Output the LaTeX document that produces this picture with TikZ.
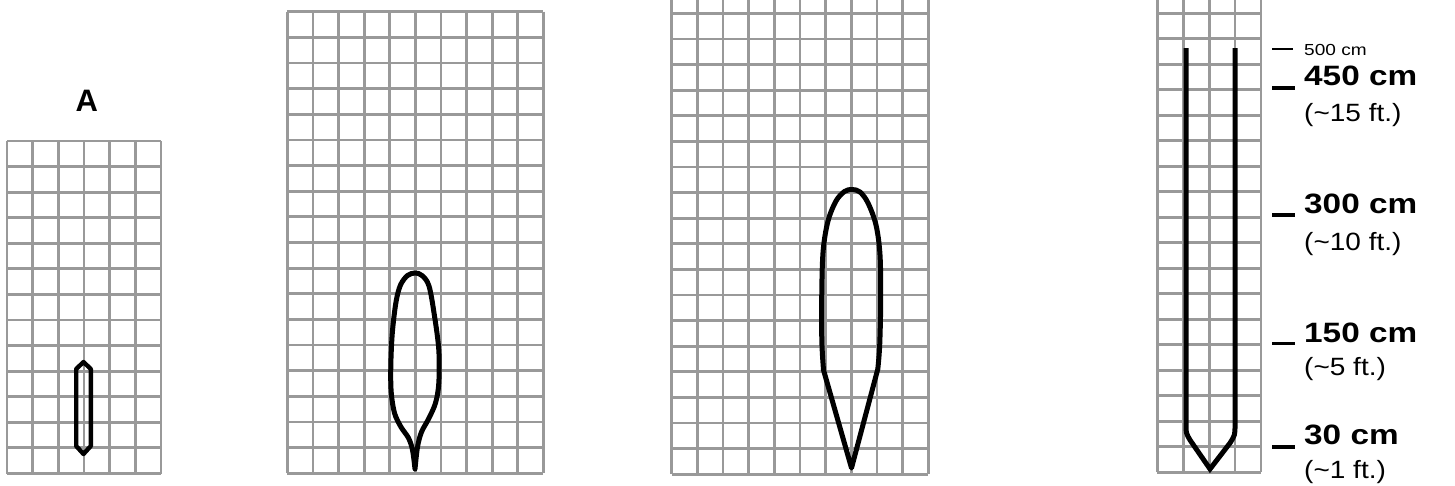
\documentclass[tikz,border=0pt]{standalone}
\usepackage{fontspec}
\setmainfont{Liberation Sans}
\usepackage{graphicx}
\tikzset{
  gridline/.style={draw=black!40, line width=2.8pt},
  shapeline/.style={draw=black, line width=5pt, line join=round},
  bigtick/.style={draw=black, line width=3.8pt},
  smalltick/.style={draw=black, line width=1.4pt},
  cmlabel/.style={anchor=base west, inner sep=0pt, font=\fontsize{28}{28}\selectfont\bfseries},
  ftlabel/.style={anchor=base west, inner sep=0pt, font=\fontsize{25}{25}\selectfont},
  smalllabel/.style={anchor=base west, inner sep=0pt, font=\fontsize{16}{16}\selectfont}
}
\newcommand{\hs}[1]{\scalebox{1.19}[1]{#1}}
\newcommand{\hft}[1]{\scalebox{1.12}[1]{#1}}
\begin{document}
\begin{tikzpicture}[x=1pt,y=-1pt]
\useasboundingbox[fill=white] (0,0) rectangle (1455,485);
% grid 1
\foreach \i in {0,...,6} \draw[gridline] ({7+\i*25.67},141) -- ({7+\i*25.67},473.5);
\foreach \j in {0,...,13} \draw[gridline] (7,{141+\j*25.57}) -- (161,{141+\j*25.57});
% grid 2
\foreach \i in {0,...,10} \draw[gridline] ({287.3+\i*25.6},11.7) -- ({287.3+\i*25.6},473.3);
\foreach \j in {0,...,18} \draw[gridline] (287.3,{11.7+\j*25.64}) -- (543.3,{11.7+\j*25.64});
% grid 3
\foreach \i in {0,...,10} \draw[gridline] ({671.7+\i*25.65},-2) -- ({671.7+\i*25.65},474.1);
\foreach \j in {0,...,18} \draw[gridline] (671.7,{13.3+\j*25.6}) -- (928.2,{13.3+\j*25.6});
% grid 4
\foreach \i in {0,...,4} \draw[gridline] ({1157.3+\i*25.9},-2) -- ({1157.3+\i*25.9},472.3);
\foreach \j in {0,...,18} \draw[gridline] (1157.3,{13.3+\j*25.5}) -- (1260.9,{13.3+\j*25.5});

% shape A
\draw[shapeline, line width=4.4pt] (83.5,362) -- (90.8,369) -- (90.8,446) -- (83.5,454) -- (76.2,446) -- (76.2,369) -- cycle;
% shape B
\draw[shapeline] plot[smooth, tension=0.55] coordinates {(415,469) (412.5,450) (408.5,438) (401,427) (394.5,413) (391.2,392) (390.8,366) (392.3,333) (396,302) (400.5,285) (407.5,275.5) (415,273) (422,275.5) (429,286) (434.5,316) (438.8,350) (438.8,383) (435.5,403) (428.5,419) (421.5,432) (417.5,447) (415,469)} -- cycle;
% shape C
\draw[shapeline] (851.5,468) -- plot[smooth, tension=0.55] coordinates {(823.5,370) (821.8,340) (821.8,290) (823.2,250) (828,221) (836,201) (844.5,191.5) (852,189.5) (860,192) (868,203) (876,225) (880,255) (880.7,300) (879.7,345) (877.8,369)} -- cycle;
% shape D
\draw[shapeline, line join=miter] (1186,48) -- (1186,425) .. controls (1186,433) .. (1190,440) -- (1210,469) -- (1230,443) .. controls (1235,435) .. (1235,425) -- (1235,48);

% label A
\node[anchor=base, inner sep=0pt, font=\fontsize{31}{31}\selectfont\bfseries] (labA) at (86.7,111.7) {A};

% scale ticks and labels
\draw[smalltick] (1272,49) -- (1293,49);
\node[smalllabel] (l500) at (1304,55.7) {\hs{500 cm}};
\draw[bigtick] (1272,87.7) -- (1295,87.7);
\node[cmlabel] (l450) at (1304,85.5) {\hs{450 cm}};
\node[ftlabel] (f15) at (1304,121) {\hft{(\char"007E 15 ft.)}};
\draw[bigtick] (1272,215) -- (1295,215);
\node[cmlabel] (l300) at (1304,213.5) {\hs{300 cm}};
\node[ftlabel] (f10) at (1304,250.5) {\hft{(\char"007E 10 ft.)}};
\draw[bigtick] (1272,343.5) -- (1295,343.5);
\node[cmlabel] (l150) at (1304,342) {\hs{150 cm}};
\node[ftlabel] (f5) at (1304,375.5) {\hft{(\char"007E 5 ft.)}};
\draw[bigtick] (1272,447) -- (1295,447);
\node[cmlabel] (l30) at (1304,444) {\hs{30 cm}};
\node[ftlabel] (f1) at (1304,478) {\hft{(\char"007E 1 ft.)}};
\end{tikzpicture}
\end{document}
